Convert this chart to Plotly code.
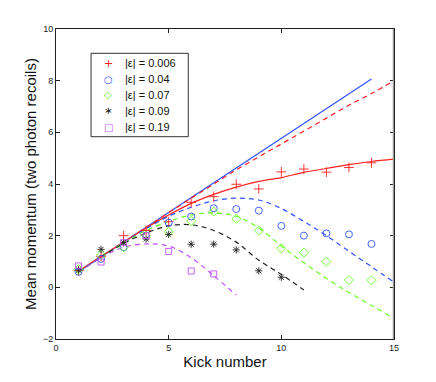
import plotly.graph_objects as go

# measured points (kick number -> mean momentum)
kicks = list(range(1, 15))
eps_labels = ["|ε| = 0.006", "|ε| = 0.04", "|ε| = 0.07", "|ε| = 0.09", "|ε| = 0.19"]

red_pts = [0.65, 1.2, 2.0, 2.2, 2.54, 3.29, 3.51, 3.99, 3.81, 4.47, 4.58, 4.46, 4.64, 4.82]
blue_pts = [0.6, 1.1, 1.55, 2.0, 2.5, 2.74, 3.06, 3.03, 2.97, 2.38, 2.0, 2.09, 2.05, 1.68]
green_x = list(range(1, 15))
green_pts = [0.7, 1.25, 1.55, 2.0, 2.15, 2.57, 2.93, 2.65, 2.2, 1.51, 1.34, 0.99, 0.28, 0.27]
black_x = list(range(1, 11))
black_pts = [0.67, 1.47, 1.73, 1.87, 2.05, 1.67, 1.67, 1.45, 0.64, 0.39]
mag_x = list(range(1, 8))
mag_pts = [0.83, 0.98, 1.73, 2.0, 1.39, 0.63, 0.52]

# theory curves
blue_lin_x = [1, 14]
blue_lin_y = [0.6, 8.06]
red_dash_x = list(range(1, 16))
red_dash_y = [0.6, 1.17, 1.75, 2.32, 2.89, 3.45, 4.0, 4.55, 5.05, 5.55, 6.05, 6.55, 7.05, 7.5, 8.0]
red_sol_x = list(range(1, 16))
red_sol_y = [0.62, 1.2, 1.75, 2.3, 2.8, 3.25, 3.6, 3.88, 4.1, 4.25, 4.45, 4.6, 4.75, 4.87, 4.96]
blue_dash_x = [1, 2, 3, 4, 5, 6, 7, 8, 9, 10, 11, 12, 13, 14, 15]
blue_dash_y = [0.6, 1.17, 1.73, 2.27, 2.75, 3.1, 3.35, 3.45, 3.38, 3.05, 2.55, 2.0, 1.4, 0.8, 0.2]
green_dash_x = [1, 2, 3, 4, 5, 6, 7, 8, 9, 10, 11, 12, 13, 14, 15]
green_dash_y = [0.6, 1.17, 1.72, 2.2, 2.55, 2.8, 2.88, 2.75, 2.3, 1.6, 0.95, 0.35, -0.2, -0.7, -1.2]
black_dash_x = [1, 2, 3, 4, 5, 6, 7, 8, 9, 10, 11]
black_dash_y = [0.6, 1.17, 1.7, 2.1, 2.38, 2.42, 2.2, 1.75, 1.05, 0.5, -0.1]
mag_dash_x = [1, 2, 3, 4, 5, 6, 7, 8]
mag_dash_y = [0.6, 1.15, 1.55, 1.68, 1.6, 1.15, 0.45, -0.3]

RED = "#ff2020"
BLUE = "#3050ff"
GREEN = "#66ff22"
BLACK = "#222222"
MAG = "#c050ff"

FONT = "Liberation Sans, Arial, sans-serif"

fig = go.Figure()

# curves (no legend)
curves = [
    (blue_lin_x, blue_lin_y, BLUE, "solid"),
    (red_dash_x, red_dash_y, RED, "dash"),
    (red_sol_x, red_sol_y, RED, "solid"),
    (blue_dash_x, blue_dash_y, BLUE, "dash"),
    (green_dash_x, green_dash_y, GREEN, "dash"),
    (black_dash_x, black_dash_y, BLACK, "dash"),
    (mag_dash_x, mag_dash_y, MAG, "dash"),
]
for cx, cy, col, dash in curves:
    fig.add_trace(go.Scatter(
        x=cx, y=cy, mode="lines", showlegend=False,
        line=dict(color=col, width=1.2, dash=dash if dash == "solid" else "5px,4px", shape="spline"),
        hoverinfo="skip"))

# data markers (+ glyph used in the hand-made legend box)
series = [
    (kicks, red_pts, RED, "cross-thin-open", eps_labels[0], 7, "+"),
    (kicks, blue_pts, BLUE, "circle-open", eps_labels[1], 7, "○"),
    (green_x, green_pts, GREEN, "diamond-open", eps_labels[2], 7, "◇"),
    (black_x, black_pts, BLACK, "asterisk-open", eps_labels[3], 6, "∗"),
    (mag_x, mag_pts, MAG, "square-open", eps_labels[4], 6, "□"),
]
for sx, sy, col, sym, name, sz, _ in series:
    fig.add_trace(go.Scatter(
        x=sx, y=sy, mode="markers", name=name, showlegend=False,
        marker=dict(symbol=sym, size=sz, color=col, line=dict(color=col, width=0.9))))

# legend box drawn by hand so the row spacing matches the original (16px rows)
fig.add_shape(type="rect", xref="paper", yref="paper", x0=0.1036, x1=0.3914, y0=0.6526, y1=0.9216,
              line=dict(color="#333333", width=1), fillcolor="white", layer="above")
row_y = [0.8894, 0.8377, 0.7871, 0.7355, 0.6829]
for (sx, sy, col, sym, name, sz, glyph), ry in zip(series, row_y):
    fig.add_annotation(xref="paper", yref="paper", x=0.1547, y=ry, text=glyph, showarrow=False,
                       xanchor="center", yanchor="middle",
                       font=dict(family="DejaVu Sans", size=10 if glyph != "+" else 11, color=col))
    fig.add_annotation(xref="paper", yref="paper", x=0.1991, y=ry, text=name, showarrow=False,
                       xanchor="left", yanchor="middle",
                       font=dict(family=FONT, size=11, color="#111111"))

# gray right edge like the original render
fig.add_shape(type="line", xref="x", yref="paper", x0=15, x1=15, y0=0, y1=1,
              line=dict(color="#999999", width=2.5))

axis_common = dict(
    showline=True, linecolor="#222222", linewidth=1, mirror="ticks", automargin=False,
    ticks="inside", ticklen=4, tickcolor="#222222", showgrid=False, zeroline=False,
    tickfont=dict(family=FONT, size=9, color="#222222"),
)

# page body keeps an 8px margin, so the figure is 8px smaller and offsets shrink
fig.update_layout(
    width=428, height=374,
    margin=dict(l=48, r=42, t=21, b=43),
    paper_bgcolor="white", plot_bgcolor="white",
    showlegend=False,
    xaxis=dict(range=[0, 15], tickvals=[0, 5, 10, 15],
               title=dict(text="Kick number", standoff=4,
                          font=dict(family=FONT, size=15, color="#111111")),
               **axis_common),
    yaxis=dict(range=[-2, 10], tickvals=[-2, 0, 2, 4, 6, 8, 10],
               title=dict(text="Mean momentum (two photon recoils)", standoff=2,
                          font=dict(family=FONT, size=15, color="#111111")),
               **axis_common),
)

fig.write_html("out.html")
